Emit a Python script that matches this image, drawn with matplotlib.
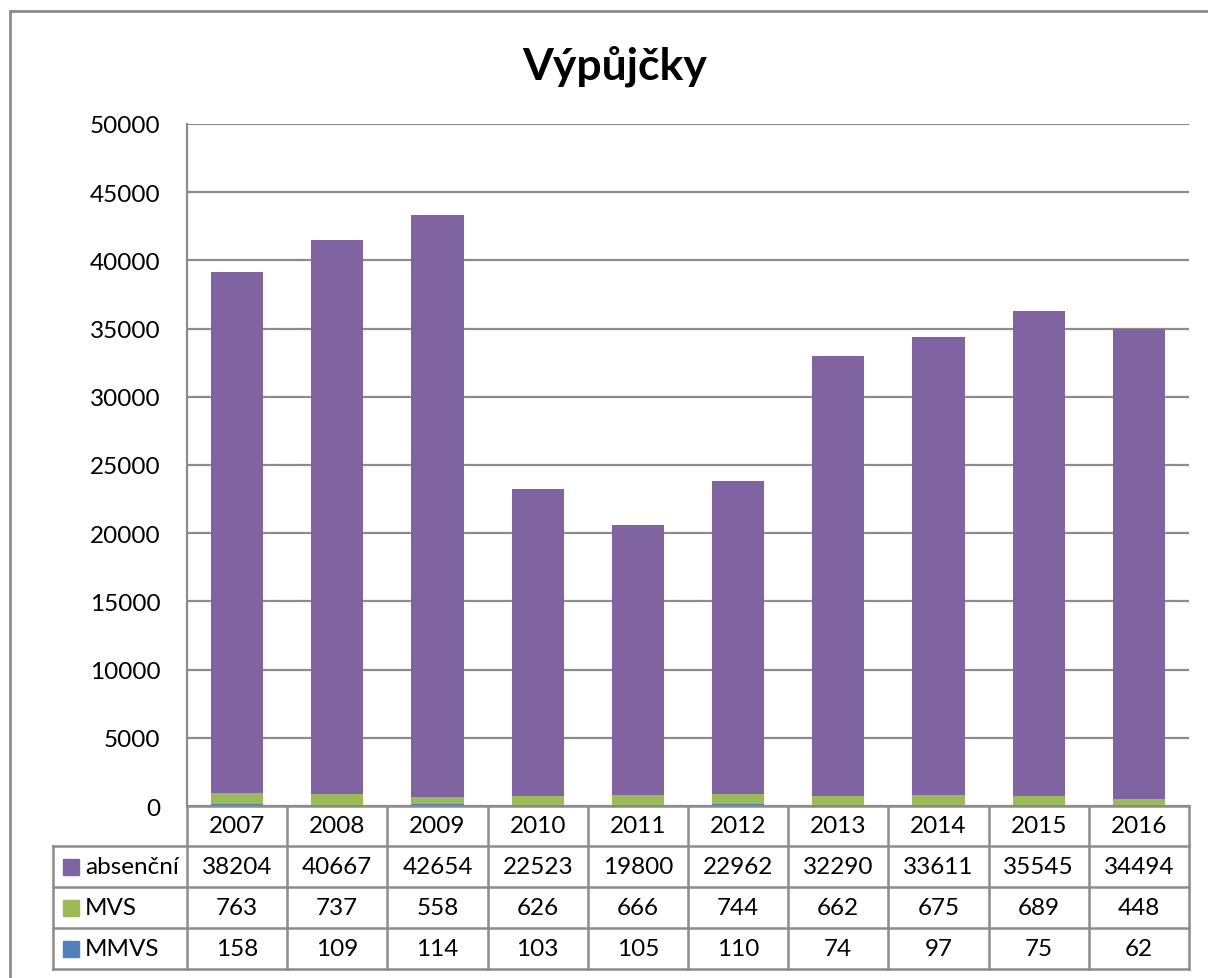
import matplotlib
matplotlib.use("Agg")
import matplotlib.pyplot as plt
from matplotlib.patches import Rectangle
from matplotlib.lines import Line2D
import numpy as np

years = ["2007", "2008", "2009", "2010", "2011", "2012", "2013", "2014", "2015", "2016"]
absencni = [38204, 40667, 42654, 22523, 19800, 22962, 32290, 33611, 35545, 34494]
mvs = [763, 737, 558, 626, 666, 744, 662, 675, 689, 448]
mmvs = [158, 109, 114, 103, 105, 110, 74, 97, 75, 62]
series_names = ["absenční", "MVS", "MMVS"]
colors = {"absenční": "#8064A2", "MVS": "#9BBB59", "MMVS": "#4F81BD"}
title = "Výpůjčky"

plt.rcParams['font.family'] = ['Lato', 'DejaVu Sans']
FS = 17.5

W, H = 1208, 979
fig = plt.figure(figsize=(W / 100, H / 100), dpi=100)

def fx(px):
    return px / W

def fy(py):
    return 1 - py / H

left_px, right_px, top_px, bottom_px = 187, 1189, 125, 807
ax = fig.add_axes([fx(left_px), fy(bottom_px), fx(right_px - left_px), (bottom_px - top_px) / H])

x = np.arange(len(years))
bw = 0.52
ax.bar(x, mmvs, bw, color=colors["MMVS"], zorder=3)
ax.bar(x, mvs, bw, bottom=mmvs, color=colors["MVS"], zorder=3)
bottom2 = np.array(mmvs) + np.array(mvs)
ax.bar(x, absencni, bw, bottom=bottom2, color=colors["absenční"], zorder=3)

ax.set_xlim(-0.5, len(years) - 0.5)
ax.set_ylim(0, 50000)
ax.set_yticks(np.arange(0, 50001, 5000))
ax.set_yticklabels([str(v) for v in range(0, 50001, 5000)], fontsize=FS)
ax.tick_params(axis='y', length=0, pad=19)
ax.set_xticks([])
ax.grid(axis='y', color='#8c8c8c', linewidth=1.6, zorder=0)
for s in ['top', 'right', 'bottom']:
    ax.spines[s].set_visible(False)
ax.spines['left'].set_color('#8c8c8c')
ax.spines['left'].set_linewidth(1.6)

fig.text(fx(615), fy(66), title, fontsize=32, fontweight='bold',
         ha='center', va='center')

# Table
lc = '#8c8c8c'
lw = 1.8
edges_px = [ax.transData.transform((xi - 0.5, 0))[0] for xi in range(len(years) + 1)]
row_px = [807, 847, 888, 929, 970]
label_left = 53

def hline(x0, x1, y):
    fig.add_artist(Line2D([fx(x0), fx(x1)], [fy(y), fy(y)], color=lc, lw=lw))

def vline(xp, y0, y1):
    fig.add_artist(Line2D([fx(xp), fx(xp)], [fy(y0), fy(y1)], color=lc, lw=lw))

hline(edges_px[0], edges_px[-1], row_px[0])
for r in row_px[1:]:
    hline(label_left, edges_px[-1], r)
for e in edges_px:
    vline(e, row_px[0], row_px[-1])
vline(label_left, row_px[1], row_px[-1])

centers = [0.5 * (edges_px[i] + edges_px[i + 1]) for i in range(len(years))]
for c, yv in zip(centers, years):
    fig.text(fx(c), fy(0.5 * (row_px[0] + row_px[1])), yv, fontsize=FS, ha='center', va='center')

table_rows = [absencni, mvs, mmvs]
for ri, (name, vals) in enumerate(zip(series_names, table_rows)):
    yc = 0.5 * (row_px[ri + 1] + row_px[ri + 2])
    fig.add_artist(Rectangle((fx(63), fy(yc + 8)), fx(16), 16 / H, color=colors[name]))
    fig.text(fx(85), fy(yc), name, fontsize=FS, ha='left', va='center')
    for c, v in zip(centers, vals):
        fig.text(fx(c), fy(yc), str(v), fontsize=FS, ha='center', va='center')

# outer chart border
fig.add_artist(Line2D([fx(10), fx(10)], [fy(12), 0], color='#8c8c8c', lw=2))
fig.add_artist(Line2D([fx(10), 1], [fy(12), fy(12)], color='#8c8c8c', lw=2))

fig.savefig("out.png", dpi=100)
